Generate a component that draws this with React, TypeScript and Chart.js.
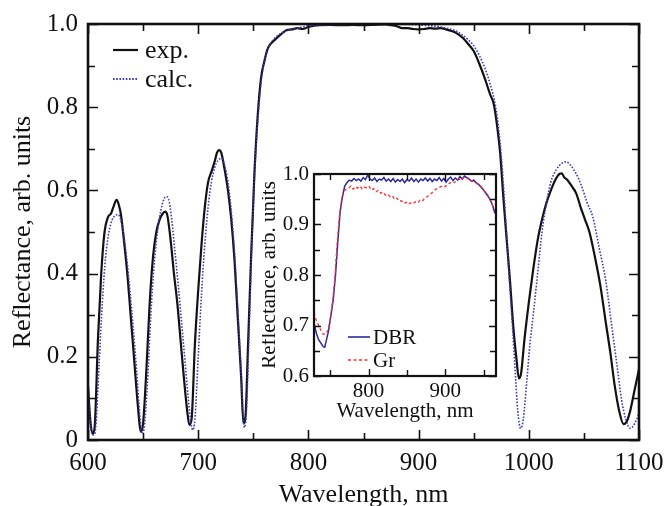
import React, { useEffect, useRef } from 'react';
import { Chart, registerables } from 'chart.js';

Chart.register(...registerables);

const SERIF = '"Liberation Serif", "DejaVu Serif", "Times New Roman", serif';

// ---------- Main chart data ----------
const EXP_WL = [600, 602, 604, 606, 609, 612, 615, 618, 621, 623, 626, 628, 630, 633, 636, 639, 642, 645, 648, 650, 653, 656, 659, 662, 665, 668, 670, 672, 675, 678, 681, 684, 687, 690, 692, 694, 697, 700, 703, 706, 709, 712, 715, 717, 719, 721, 724, 727, 730, 733, 736, 739, 741, 743, 745, 748, 751, 754, 757, 760, 763, 766, 770, 775, 780, 785, 790, 795, 800, 810, 820, 830, 840, 850, 860, 870, 875, 880, 885, 890, 895, 900, 905, 910, 915, 920, 925, 930, 935, 940, 945, 950, 955, 960, 965, 968, 971, 974, 977, 980, 983, 986, 989, 991, 993, 996, 1000, 1004, 1008, 1012, 1016, 1020, 1024, 1028, 1030, 1032, 1035, 1039, 1043, 1047, 1051, 1055, 1060, 1065, 1070, 1074, 1078, 1082, 1086, 1089, 1092, 1096, 1100];
const EXP_R = [0.13, 0.05, 0.015, 0.03, 0.24, 0.40, 0.50, 0.535, 0.545, 0.56, 0.577, 0.565, 0.54, 0.47, 0.39, 0.29, 0.19, 0.09, 0.02, 0.04, 0.17, 0.33, 0.44, 0.50, 0.53, 0.545, 0.549, 0.54, 0.48, 0.40, 0.33, 0.24, 0.15, 0.07, 0.036, 0.05, 0.23, 0.36, 0.47, 0.56, 0.62, 0.645, 0.67, 0.69, 0.697, 0.69, 0.65, 0.60, 0.53, 0.43, 0.29, 0.15, 0.04, 0.06, 0.21, 0.44, 0.64, 0.78, 0.87, 0.91, 0.94, 0.953, 0.963, 0.975, 0.985, 0.987, 0.99, 0.988, 0.993, 0.997, 0.998, 0.997, 0.998, 0.997, 0.998, 0.999, 0.997, 0.995, 0.99, 0.99, 0.988, 0.987, 0.988, 0.99, 0.989, 0.99, 0.987, 0.983, 0.977, 0.967, 0.952, 0.935, 0.905, 0.87, 0.83, 0.81, 0.76, 0.69, 0.58, 0.48, 0.38, 0.27, 0.19, 0.148, 0.16, 0.24, 0.33, 0.41, 0.48, 0.53, 0.57, 0.60, 0.625, 0.64, 0.641, 0.632, 0.625, 0.61, 0.593, 0.56, 0.53, 0.50, 0.44, 0.37, 0.28, 0.21, 0.13, 0.07, 0.038, 0.045, 0.07, 0.12, 0.17];

const CALC_WL = [600, 602, 605, 607, 610, 613, 616, 619, 622, 625, 627, 629, 632, 635, 638, 641, 644, 647, 649, 651, 654, 657, 660, 663, 666, 669, 671, 673, 676, 679, 682, 685, 688, 691, 693, 695, 697, 700, 703, 706, 709, 712, 715, 718, 721, 724, 727, 730, 733, 736, 739, 741, 742, 744, 746, 749, 752, 755, 758, 761, 764, 768, 772, 777, 782, 790, 800, 810, 820, 850, 880, 900, 910, 920, 925, 930, 935, 940, 945, 950, 955, 960, 965, 970, 973, 976, 979, 982, 985, 988, 990, 992.6, 995, 998, 1001, 1004, 1008, 1012, 1016, 1020, 1025, 1030, 1034, 1038, 1043, 1048, 1053, 1058, 1064, 1070, 1075, 1080, 1084, 1088, 1092, 1095, 1098, 1100];
const CALC_R = [0.12, 0.04, 0.012, 0.03, 0.18, 0.33, 0.44, 0.50, 0.53, 0.54, 0.542, 0.535, 0.50, 0.44, 0.36, 0.27, 0.17, 0.06, 0.015, 0.03, 0.14, 0.30, 0.42, 0.50, 0.55, 0.58, 0.585, 0.58, 0.53, 0.45, 0.37, 0.28, 0.19, 0.10, 0.05, 0.024, 0.05, 0.20, 0.35, 0.47, 0.56, 0.62, 0.655, 0.672, 0.677, 0.66, 0.62, 0.55, 0.45, 0.31, 0.16, 0.05, 0.03, 0.08, 0.25, 0.50, 0.68, 0.80, 0.88, 0.92, 0.945, 0.962, 0.972, 0.98, 0.985, 0.99, 0.995, 0.997, 0.998, 0.999, 0.999, 0.998, 0.996, 0.993, 0.99, 0.987, 0.982, 0.973, 0.962, 0.948, 0.925, 0.895, 0.855, 0.80, 0.74, 0.65, 0.53, 0.40, 0.28, 0.15, 0.07, 0.028, 0.05, 0.136, 0.23, 0.30, 0.40, 0.50, 0.57, 0.62, 0.65, 0.665, 0.669, 0.66, 0.64, 0.61, 0.57, 0.537, 0.46, 0.38, 0.28, 0.18, 0.10, 0.05, 0.028, 0.035, 0.05, 0.065];

const MAIN_X_TICKS = [600, 700, 800, 900, 1000, 1100];
const MAIN_X_MINOR = [650, 750, 850, 950, 1050];
const MAIN_Y_TICKS = [0, 0.2, 0.4, 0.6, 0.8, 1.0];
const MAIN_Y_LABELS = ['0', '0.2', '0.4', '0.6', '0.8', '1.0'];
const MAIN_Y_MINOR = [0.1, 0.3, 0.5, 0.7, 0.9];

// ---------- Inset data ----------
const DBR_WL = [729, 732, 735, 738, 741, 743, 745, 748, 751, 754, 757, 760, 763, 766, 769, 772, 775, 778, 781, 784, 787, 790, 793, 796, 799, 802, 805, 808, 811, 814, 817, 820, 823, 826, 829, 832, 835, 838, 841, 844, 847, 850, 853, 856, 859, 862, 865, 868, 871, 874, 877, 880, 883, 886, 889, 892, 895, 898, 901, 904, 907, 910, 913, 916, 919, 922, 925, 928, 931, 934, 937, 940, 943, 946, 949, 952, 955, 958, 961, 964, 966];
const DBR_R = [0.705, 0.685, 0.672, 0.665, 0.658, 0.657, 0.67, 0.69, 0.72, 0.75, 0.80, 0.865, 0.925, 0.955, 0.976, 0.983, 0.988, 0.986, 0.991, 0.987, 0.99, 0.986, 0.993, 0.989, 0.998, 0.99, 0.987, 0.992, 0.985, 0.99, 0.988, 0.993, 0.986, 0.99, 0.985, 0.991, 0.984, 0.989, 0.985, 0.99, 0.983, 0.989, 0.986, 0.992, 0.985, 0.99, 0.984, 0.99, 0.987, 0.992, 0.986, 0.991, 0.985, 0.99, 0.987, 0.993, 0.986, 0.991, 0.984, 0.99, 0.994, 0.987, 0.992, 0.988, 0.995, 0.99, 0.996, 0.993, 0.99, 0.986, 0.988, 0.983, 0.98, 0.975, 0.97, 0.964, 0.958, 0.95, 0.94, 0.925, 0.92];

const GR_WL = [729, 732, 735, 738, 741, 744, 747, 750, 753, 756, 759, 762, 765, 768, 771, 774, 777, 780, 783, 786, 789, 792, 795, 798, 801, 804, 807, 810, 813, 816, 819, 822, 825, 828, 831, 834, 837, 840, 843, 846, 849, 852, 855, 858, 861, 864, 867, 870, 873, 876, 879, 882, 885, 888, 891, 894, 897, 900, 903, 906, 909, 912, 915, 918, 921, 924, 927, 930, 933, 936, 939, 942, 945, 948, 951, 954, 957, 960, 963, 966];
const GR_R = [0.725, 0.71, 0.70, 0.69, 0.683, 0.683, 0.69, 0.71, 0.745, 0.79, 0.86, 0.915, 0.95, 0.965, 0.97, 0.972, 0.976, 0.97, 0.975, 0.972, 0.976, 0.97, 0.974, 0.972, 0.975, 0.968, 0.971, 0.965, 0.968, 0.962, 0.964, 0.958, 0.96, 0.955, 0.957, 0.95, 0.952, 0.946, 0.947, 0.942, 0.944, 0.94, 0.943, 0.941, 0.945, 0.943, 0.948, 0.946, 0.952, 0.955, 0.958, 0.962, 0.966, 0.97, 0.972, 0.975, 0.977, 0.975, 0.98, 0.982, 0.985, 0.983, 0.988, 0.99, 0.988, 0.993, 0.99, 0.992, 0.988, 0.985, 0.984, 0.98, 0.978, 0.972, 0.965, 0.958, 0.952, 0.945, 0.932, 0.925];

const INSET_X_TICKS = [800, 900];
const INSET_X_MINOR = [750, 850, 950];
const INSET_Y_TICKS = [0.6, 0.7, 0.8, 0.9, 1.0];
const INSET_Y_LABELS = ['0.6', '0.7', '0.8', '0.9', '1.0'];
const INSET_Y_MINOR = [0.65, 0.75, 0.85, 0.95];

const toXY = (xs: number[], ys: number[]) => xs.map((x, i) => ({ x, y: ys[i] }));

type FrameCfg = {
  xMajor: number[]; xMinor: number[]; yMajor: number[]; yMinor: number[];
  major: number; minor: number; tickWidth: number; frameWidth: number; fillWhite?: boolean;
};

const framePlugin = (cfg: FrameCfg) => ({
  id: 'frameTicks',
  beforeDatasetsDraw(chart: any) {
    if (!cfg.fillWhite) return;
    const { ctx, chartArea: { left, right, top, bottom } } = chart;
    ctx.save();
    ctx.fillStyle = '#ffffff';
    ctx.fillRect(left, top, right - left, bottom - top);
    ctx.restore();
  },
  afterDraw(chart: any) {
    const { ctx, chartArea: { left, right, top, bottom }, scales } = chart;
    const x = scales.x, y = scales.y;
    ctx.save();
    ctx.strokeStyle = '#111';
    ctx.lineWidth = cfg.tickWidth;
    ctx.beginPath();
    const vx = (vals: number[], len: number) => vals.forEach(v => {
      const px = Math.round(x.getPixelForValue(v)) + 0.5;
      ctx.moveTo(px, bottom); ctx.lineTo(px, bottom - len);
      ctx.moveTo(px, top); ctx.lineTo(px, top + len);
    });
    const vy = (vals: number[], len: number) => vals.forEach(v => {
      const py = Math.round(y.getPixelForValue(v)) + 0.5;
      ctx.moveTo(left, py); ctx.lineTo(left + len, py);
      ctx.moveTo(right, py); ctx.lineTo(right - len, py);
    });
    vx(cfg.xMajor, cfg.major); vx(cfg.xMinor, cfg.minor);
    vy(cfg.yMajor, cfg.major); vy(cfg.yMinor, cfg.minor);
    ctx.stroke();
    ctx.lineWidth = cfg.frameWidth;
    ctx.strokeRect(left, top, right - left, bottom - top);
    ctx.restore();
  },
});

type LegendItem = { label: string; color: string; dash: number[]; width: number; x0: number; x1: number; y: number; tx: number };
const legendPlugin = (items: LegendItem[], fontSize: number) => ({
  id: 'customLegend',
  afterDraw(chart: any) {
    const { ctx } = chart;
    ctx.save();
    items.forEach(it => {
      ctx.strokeStyle = it.color;
      ctx.lineWidth = it.width;
      ctx.setLineDash(it.dash);
      ctx.beginPath();
      ctx.moveTo(it.x0, it.y); ctx.lineTo(it.x1, it.y);
      ctx.stroke();
      ctx.setLineDash([]);
      ctx.fillStyle = '#111';
      ctx.font = `${fontSize}px ${SERIF}`;
      ctx.textBaseline = 'middle';
      ctx.textAlign = 'left';
      ctx.fillText(it.label, it.tx, it.y + 1);
    });
    ctx.restore();
  },
});

const fitX = (h: number) => (s: any) => { s.height = h; s.paddingLeft = 0; s.paddingRight = 0; };
const fitY = (w: number) => (s: any) => { s.width = w; s.paddingTop = 0; s.paddingBottom = 0; };

export default function App() {
  const mainRef = useRef<HTMLCanvasElement>(null);
  const insetRef = useRef<HTMLCanvasElement>(null);

  useEffect(() => {
    const main = new Chart(mainRef.current as HTMLCanvasElement, {
      type: 'line',
      data: {
        datasets: [
          {
            label: 'calc.', data: toXY(CALC_WL, CALC_R), borderColor: '#3b3bb8', borderWidth: 1.6,
            borderDash: [1.6, 1.6], pointRadius: 0, cubicInterpolationMode: 'monotone', fill: false,
          },
          {
            label: 'exp.', data: toXY(EXP_WL, EXP_R), borderColor: '#111111', borderWidth: 2.2,
            pointRadius: 0, cubicInterpolationMode: 'monotone', fill: false,
          },
        ],
      },
      options: {
        responsive: false, animation: false, events: [],
        layout: { padding: { top: 24, right: 26, left: 0, bottom: 0 } },
        plugins: { legend: { display: false }, tooltip: { enabled: false } },
        scales: {
          x: {
            type: 'linear', min: 600, max: 1100,
            afterBuildTicks: (s: any) => { s.ticks = MAIN_X_TICKS.map(v => ({ value: v })); },
            afterFit: fitX(66),
            grid: { display: false, drawTicks: false },
            border: { display: false },
            ticks: { font: { family: SERIF, size: 25 }, color: '#111', padding: 8, maxRotation: 0, autoSkip: false, callback: (v: any) => String(v) },
            title: { display: true, text: 'Wavelength, nm', color: '#111', font: { family: SERIF, size: 26, lineHeight: '22px' }, padding: 0 },
          },
          y: {
            type: 'linear', min: 0, max: 1.0,
            afterBuildTicks: (s: any) => { s.ticks = MAIN_Y_TICKS.map(v => ({ value: v })); },
            afterFit: fitY(88),
            grid: { display: false, drawTicks: false },
            border: { display: false },
            ticks: { font: { family: SERIF, size: 25 }, color: '#111', padding: 10, autoSkip: false, callback: (_v: any, i: number) => MAIN_Y_LABELS[i] },
            title: { display: true, text: 'Reflectance, arb. units', color: '#111', font: { family: SERIF, size: 26, lineHeight: '26px' }, padding: { top: 10, bottom: 0 } },
          },
        },
      },
      plugins: [
        framePlugin({ xMajor: MAIN_X_TICKS, xMinor: MAIN_X_MINOR, yMajor: MAIN_Y_TICKS, yMinor: MAIN_Y_MINOR, major: 10, minor: 7, tickWidth: 1.6, frameWidth: 2.6 }),
        legendPlugin([
          { label: 'exp.', color: '#111', dash: [], width: 2.2, x0: 113, x1: 138, y: 50, tx: 145 },
          { label: 'calc.', color: '#3b3bb8', dash: [1.6, 1.6], width: 1.8, x0: 113, x1: 138, y: 79, tx: 145 },
        ], 26),
      ],
    } as any);

    const inset = new Chart(insetRef.current as HTMLCanvasElement, {
      type: 'line',
      data: {
        datasets: [
          {
            label: 'Gr', data: toXY(GR_WL, GR_R), borderColor: '#ff3030', borderWidth: 1.3,
            borderDash: [3, 2.5], pointRadius: 0, tension: 0, fill: false,
          },
          {
            label: 'DBR', data: toXY(DBR_WL, DBR_R), borderColor: '#2b2b9e', borderWidth: 1.5,
            pointRadius: 0, tension: 0, fill: false,
          },
        ],
      },
      options: {
        responsive: false, animation: false, events: [],
        layout: { padding: { top: 8, right: 6, left: 0, bottom: 0 } },
        plugins: { legend: { display: false }, tooltip: { enabled: false } },
        scales: {
          x: {
            type: 'linear', min: 729, max: 966,
            afterBuildTicks: (s: any) => { s.ticks = INSET_X_TICKS.map(v => ({ value: v })); },
            afterFit: fitX(54),
            grid: { display: false, drawTicks: false },
            border: { display: false },
            ticks: { font: { family: SERIF, size: 21 }, color: '#111', padding: 3, maxRotation: 0, autoSkip: false, callback: (v: any) => String(v) },
            title: { display: true, text: 'Wavelength, nm', color: '#111', font: { family: SERIF, size: 21, lineHeight: '21px' }, padding: { top: 0, bottom: 8 } },
          },
          y: {
            type: 'linear', min: 0.6, max: 1.0,
            afterBuildTicks: (s: any) => { s.ticks = INSET_Y_TICKS.map(v => ({ value: v })); },
            afterFit: fitY(52),
            grid: { display: false, drawTicks: false },
            border: { display: false },
            ticks: { font: { family: SERIF, size: 21 }, color: '#111', padding: 5, autoSkip: false, callback: (_v: any, i: number) => INSET_Y_LABELS[i] },
            title: { display: true, text: 'Reflectance, arb. units', color: '#111', font: { family: SERIF, size: 21, lineHeight: '14px' }, padding: { top: 0, bottom: 0 } },
          },
        },
      },
      plugins: [
        framePlugin({ xMajor: INSET_X_TICKS, xMinor: INSET_X_MINOR, yMajor: INSET_Y_TICKS, yMinor: INSET_Y_MINOR, major: 7, minor: 6, tickWidth: 1.4, frameWidth: 2.2, fillWhite: true }),
        legendPlugin([
          { label: 'DBR', color: '#2b2b9e', dash: [], width: 1.6, x0: 86, x1: 108, y: 171, tx: 111 },
          { label: 'Gr', color: '#ff3030', dash: [3, 2.5], width: 1.3, x0: 86, x1: 108, y: 194, tx: 111 },
        ], 21),
      ],
    } as any);

    return () => { main.destroy(); inset.destroy(); };
  }, []);

  return (
    <div style={{ position: 'fixed', left: 0, top: 0, width: 665, height: 506, background: '#fff' }}>
      <canvas ref={mainRef} width={665} height={506} style={{ position: 'absolute', left: 0, top: 0, display: 'block' }} />
      <canvas ref={insetRef} width={240} height={264} style={{ position: 'absolute', left: 262, top: 166, display: 'block' }} />
    </div>
  );
}
